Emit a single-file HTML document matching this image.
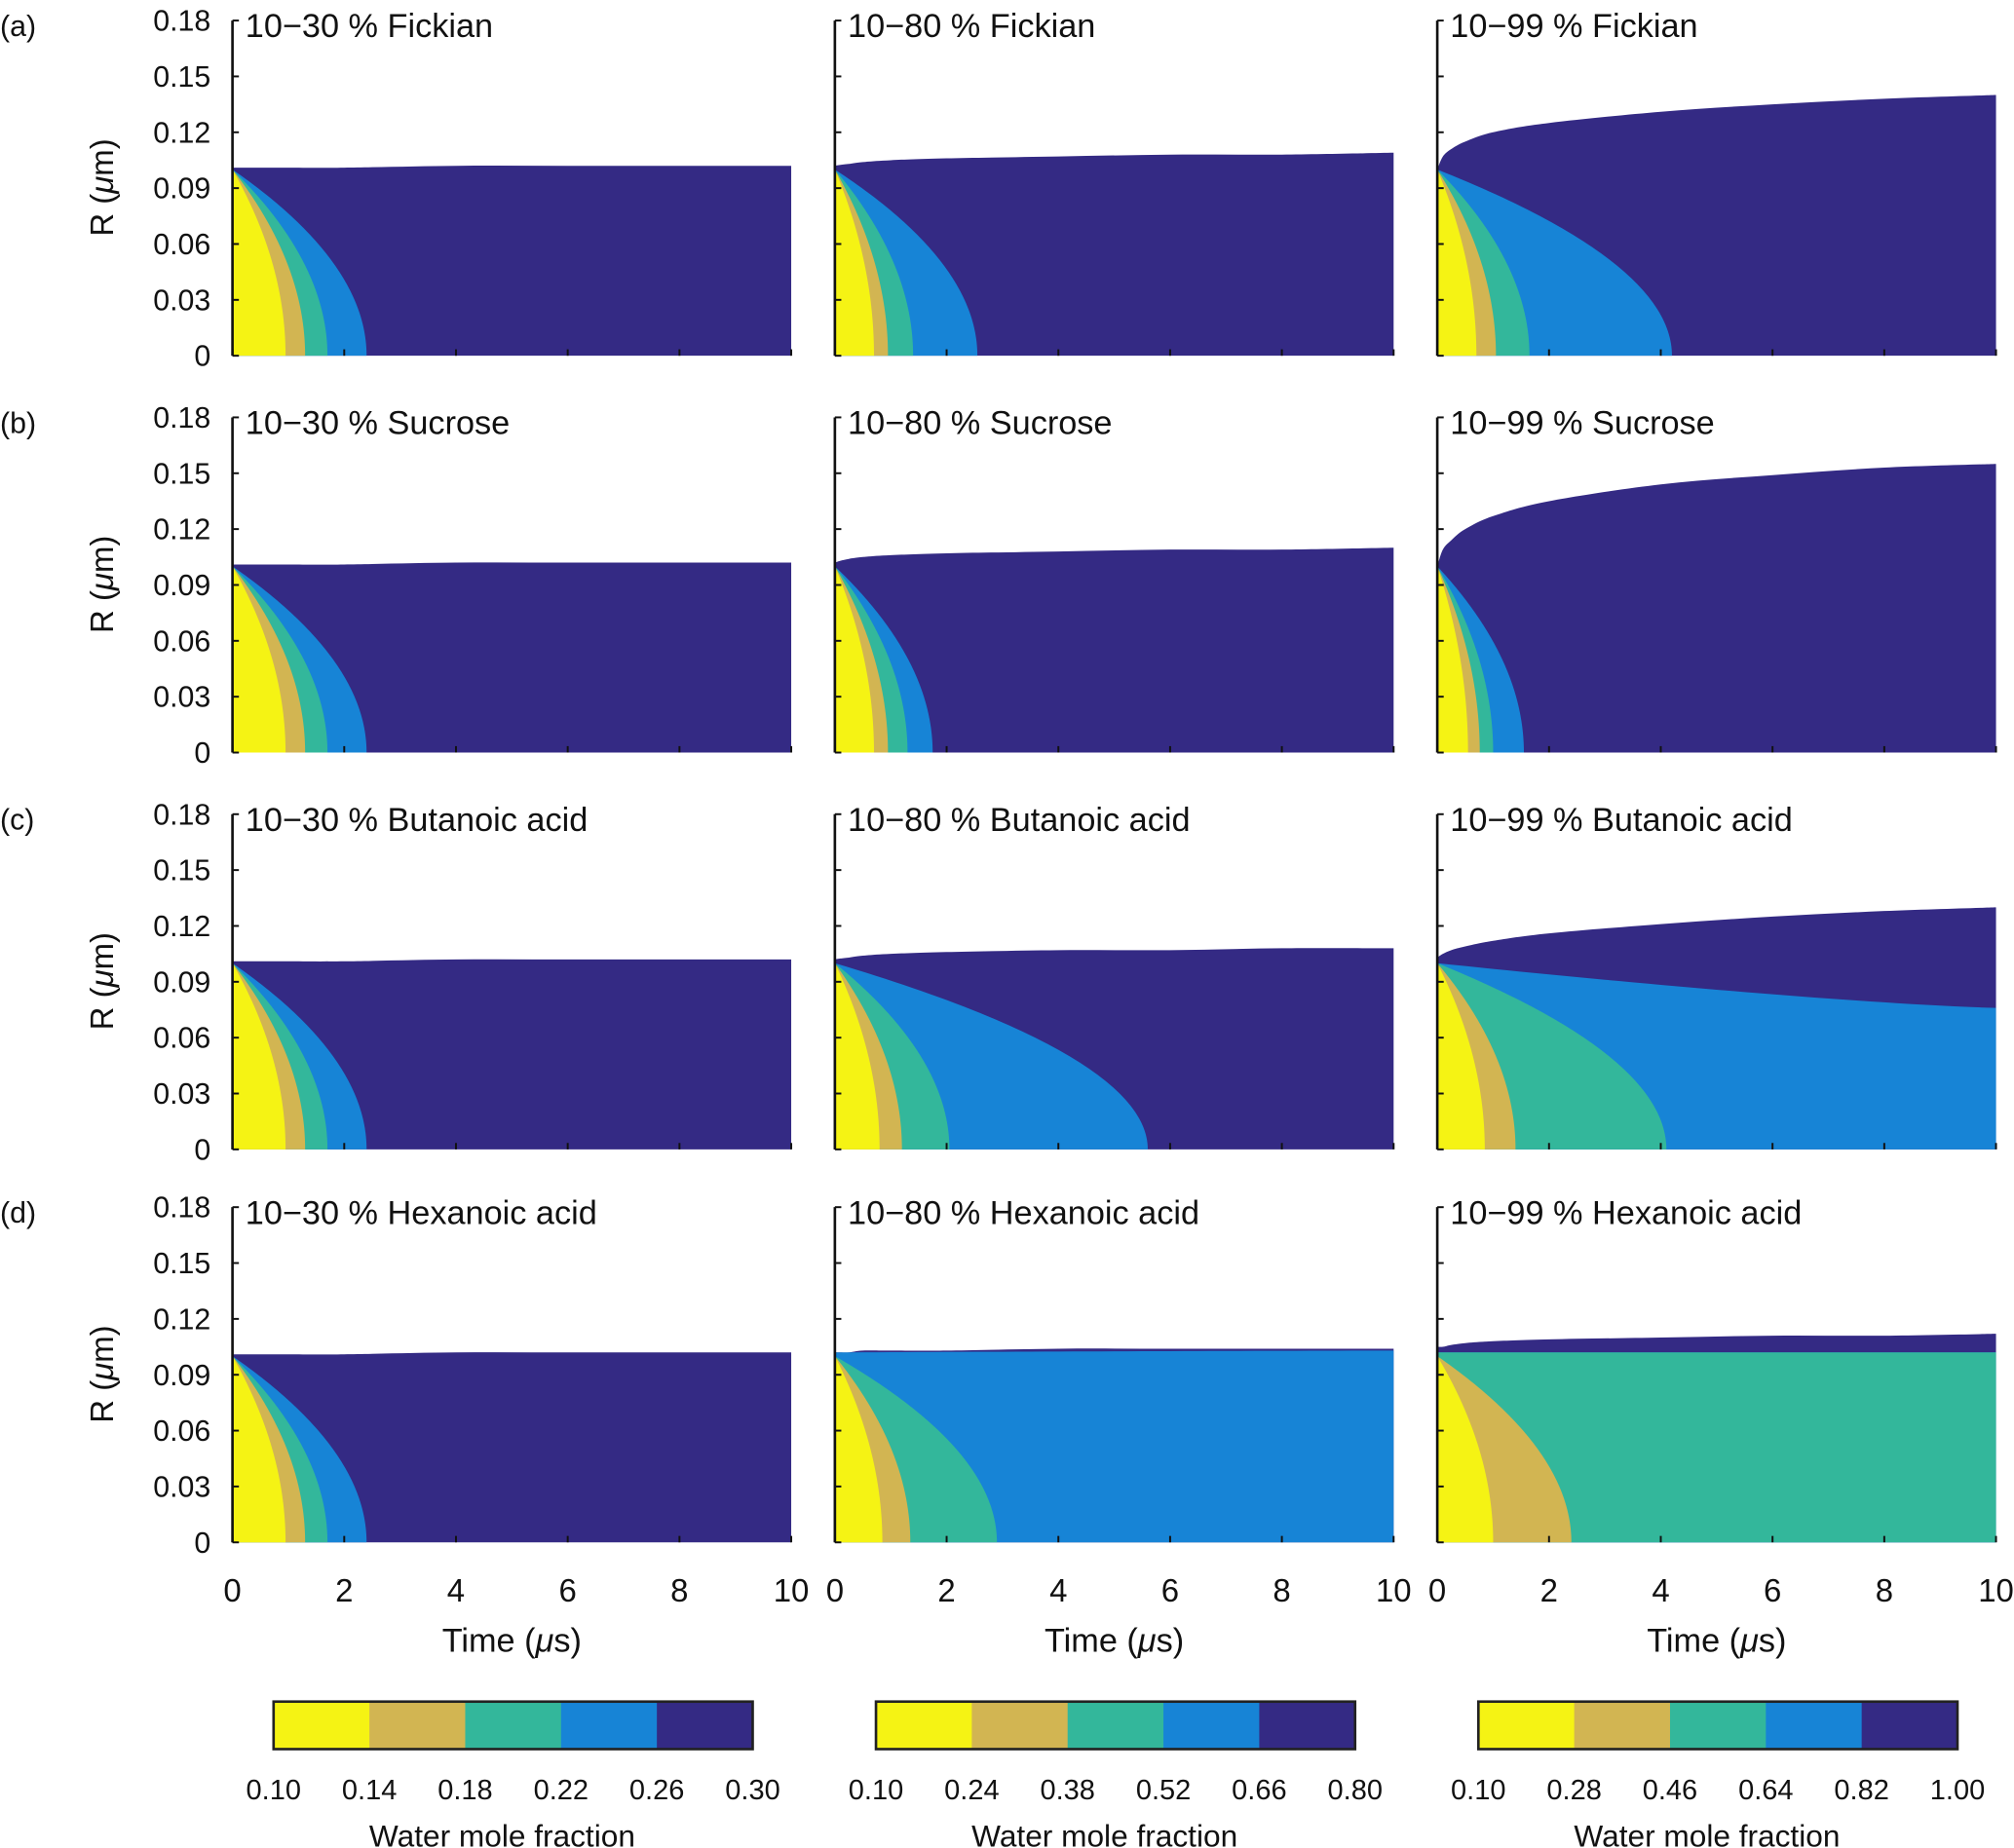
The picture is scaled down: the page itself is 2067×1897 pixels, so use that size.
<!DOCTYPE html>
<html><head><meta charset="utf-8"><style>
html,body{margin:0;padding:0;background:#fff}
svg{display:block}
text{font-family:"Liberation Sans",Arial,sans-serif;fill:#111}
</style></head><body>
<svg id="fig" width="2067" height="1897" viewBox="0 0 1568 1439" preserveAspectRatio="none" xmlns="http://www.w3.org/2000/svg"></svg>
<script>
// ---- data ----
const colors = ["#f5f314","#d2b552","#33b79b","#1784d6","#342a84"];
const rowLabels = ["(a)","(b)","(c)","(d)"];
const rowNames = ["Fickian","Sucrose","Butanoic acid","Hexanoic acid"];
const colRanges = ["10\u221230","10\u221280","10\u221299"];
const yTicks = [0,0.03,0.06,0.09,0.12,0.15,0.18];
const yTickLabels = ["0","0.03","0.06","0.09","0.12","0.15","0.18"];
const xTicks = [0,2,4,6,8,10];
const outerTimes = [0,0.1,0.25,0.5,1,2,4,6,8,10];
const cbLabels0 = ["0.10","0.14","0.18","0.22","0.26","0.30"];
const cbLabels1 = ["0.10","0.24","0.38","0.52","0.66","0.80"];
const cbLabels2 = ["0.10","0.28","0.46","0.64","0.82","1.00"];
// outer radius per panel (row-major)
const outerA1 = [0.101,0.101,0.101,0.101,0.101,0.101,0.102,0.102,0.102,0.102];
const outerA2 = [0.102,0.1025,0.103,0.104,0.105,0.106,0.107,0.108,0.108,0.109];
const outerA3 = [0.100,0.107,0.111,0.115,0.120,0.125,0.131,0.135,0.138,0.140];
const outerB1 = [0.101,0.101,0.101,0.101,0.101,0.101,0.102,0.102,0.102,0.102];
const outerB2 = [0.102,0.103,0.104,0.105,0.106,0.107,0.108,0.109,0.109,0.110];
const outerB3 = [0.100,0.109,0.114,0.120,0.127,0.135,0.144,0.149,0.153,0.155];
const outerC1 = [0.101,0.101,0.101,0.101,0.101,0.101,0.102,0.102,0.102,0.102];
const outerC2 = [0.102,0.1025,0.103,0.104,0.105,0.106,0.107,0.107,0.108,0.108];
const outerC3 = [0.103,0.105,0.107,0.109,0.112,0.116,0.121,0.125,0.128,0.130];
const outerD1 = [0.101,0.101,0.101,0.101,0.101,0.101,0.102,0.102,0.102,0.102];
const outerD2 = [0.102,0.102,0.102,0.103,0.103,0.103,0.104,0.104,0.104,0.104];
const outerD3 = [0.105,0.105,0.106,0.107,0.108,0.109,0.110,0.111,0.111,0.112];
// region boundaries: x-intercept time (µs) for boundaries reaching R=0, colour index 3..0
const bndA1 = [2.4,1.7,1.3,0.95];
const bndA2 = [2.55,1.4,0.95,0.7];
const bndA3 = [4.2,1.65,1.05,0.7];
const bndB1 = [2.4,1.7,1.3,0.95];
const bndB2 = [1.75,1.3,0.95,0.7];
const bndB3 = [1.55,1.0,0.76,0.55];
const bndC1 = [2.4,1.7,1.3,0.95];
const bndC2 = [5.6,2.05,1.2,0.8];
const bndC3 = [null,4.1,1.4,0.85];
const bndD1 = [2.4,1.7,1.3,0.95];
const bndD2 = [null,2.9,1.35,0.85];
const bndD3 = [null,null,2.4,1.0];
// boundaries ending at t=10 instead: [startR, endR]
const edgeC3 = [[0.100,0.076],null,null,null];
const edgeD2 = [[0.102,0.103],null,null,null];
const edgeD3 = [[0.102,0.102],[0.102,0.102],null,null];
const noEdge = [null,null,null,null];

const panels = [
 [outerA1,bndA1,noEdge],[outerA2,bndA2,noEdge],[outerA3,bndA3,noEdge],
 [outerB1,bndB1,noEdge],[outerB2,bndB2,noEdge],[outerB3,bndB3,noEdge],
 [outerC1,bndC1,noEdge],[outerC2,bndC2,noEdge],[outerC3,bndC3,edgeC3],
 [outerD1,bndD1,noEdge],[outerD2,bndD2,edgeD2],[outerD3,bndD3,edgeD3]];

const NS="http://www.w3.org/2000/svg";
const svg=document.getElementById('fig');
function el(tag,attrs,parent){const e=document.createElementNS(NS,tag);for(const k in attrs)e.setAttribute(k,attrs[k]);(parent||svg).appendChild(e);return e;}
function smoothPath(pts){ // monotone-ish Catmull-Rom to cubic
 let d='';
 for(let i=0;i<pts.length-1;i++){
  const p0=pts[Math.max(0,i-1)],p1=pts[i],p2=pts[i+1],p3=pts[Math.min(pts.length-1,i+2)];
  const c1=[p1[0]+(p2[0]-p0[0])/6,p1[1]+(p2[1]-p0[1])/6];
  const c2=[p2[0]-(p3[0]-p1[0])/6,p2[1]-(p3[1]-p1[1])/6];
  d+=' C'+c1[0]+','+c1[1]+' '+c2[0]+','+c2[1]+' '+p2[0]+','+p2[1];
 }
 return d;
}

const colX=[181,650,1119], rowY0=[277,586,895,1201], PW=435, PH=261;
for(let r=0;r<4;r++){
 const lab=el('text',{x:0,y:rowY0[r]-249,'font-size':23});
 
 
 lab.textContent=rowLabels[r];
 for(let c=0;c<3;c++){
  const x0=colX[c], y0=rowY0[r];
  const X=t=>x0+t/10*PW, Y=v=>y0-v/0.18*PH;
  const [outer,bnd,edge]=panels[r*3+c];
  const g=el('g',{});
  
  
  const pts=outerTimes.map((t,i)=>[X(t),Y(outer[i])]);
  let d='M'+X(0)+','+Y(0)+' L'+pts[0][0]+','+pts[0][1]+smoothPath(pts)+' L'+X(10)+','+Y(0)+' Z';
  const o=el('path',{d:d,fill:colors[4]},g);
  
  
  for(let k=0;k<4;k++){
   const ci=3-k; let p;
   const R0=Math.min(0.100,outer[0]);
   if(edge[k]){
    const [a,b]=edge[k];
    p='M'+X(0)+','+Y(0)+' L'+X(0)+','+Y(a);
    for(let i=1;i<=40;i++){const t=10*i/40;const f=t/10;p+=' L'+X(t)+','+Y(a+(b-a)*(1-Math.pow(1-f,1.3)));}
    p+=' L'+X(10)+','+Y(0)+' Z';
   } else if(bnd[k]!==null){
    const T=bnd[k];
    p='M'+X(0)+','+Y(0)+' L'+X(0)+','+Y(R0);
    for(let i=1;i<=60;i++){const s=i/60;const t=T*(1-Math.pow(1-s,2));p+=' L'+X(t)+','+Y(R0*Math.sqrt(Math.max(0,1-t/T)));}
    p+=' Z';
   } else continue;
   const pe=el('path',{d:p,fill:colors[ci]},g);
   
   
  }
  const ax=el('line',{x1:x0,y1:y0,x2:x0,y2:y0-PH,stroke:'#111','stroke-width':2},g);
  
  
  yTicks.forEach((v,i)=>{
   el('line',{x1:x0,y1:Y(v),x2:x0+5,y2:Y(v),stroke:'#111','stroke-width':1.5},g);
   if(c===0){const t=el('text',{x:x0-17,y:Y(v)+8,'font-size':23,'text-anchor':'end'},g);
    
    
    t.textContent=yTickLabels[i];}
  });
  xTicks.forEach(v=>{
   el('line',{x1:X(v),y1:y0,x2:X(v),y2:y0-5,stroke:'#111','stroke-width':1.5},g);
   if(r===3){const t=el('text',{x:X(v),y:y0+46,'font-size':25,'text-anchor':'middle'},g);
    
    
    t.textContent=v;}
  });
  if(c===0){const t=el('text',{x:0,y:0,'font-size':25,'text-anchor':'middle',transform:'translate(88,'+(y0-131)+') rotate(-90)'},g);
   
   
   t.innerHTML='R (<tspan font-style="italic">\u03bc</tspan>m)';}
  if(r===3){const t=el('text',{x:x0+PW/2,y:y0+85,'font-size':26,'text-anchor':'middle'},g);
   
   
   t.innerHTML='Time (<tspan font-style="italic">\u03bc</tspan>s)';}
  const ti=el('text',{x:x0+10,y:y0-248,'font-size':26},g);
  
  
  ti.setAttribute('xml:space','preserve');
  ti.textContent=colRanges[c]+'  % '+rowNames[r];
 }
}
const cbX=[213,682,1151], cbLabs=[cbLabels0,cbLabels1,cbLabels2];
for(let c=0;c<3;c++){
 const g=el('g',{});
 
 
 const w=373/5;
 for(let i=0;i<5;i++){const rr=el('rect',{x:cbX[c]+i*w,y:1325,width:w+0.5,height:37,fill:colors[i]},g);
  
  }
 el('rect',{x:cbX[c],y:1325,width:373,height:37,fill:'none',stroke:'#222','stroke-width':2},g);
 cbLabs[c].forEach((s,i)=>{const t=el('text',{x:cbX[c]+i*w,y:1401,'font-size':22,'text-anchor':'middle'},g);
  
  
  t.textContent=s;});
 const t=el('text',{x:cbX[c]+178,y:1438,'font-size':24,'text-anchor':'middle'},g);
 
 
 t.textContent='Water mole fraction';
}
</script>
</body></html>
